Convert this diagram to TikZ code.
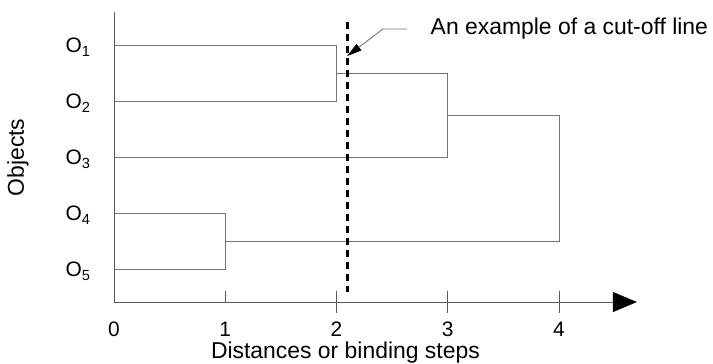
\documentclass[tikz,border=0pt]{standalone}
\usepackage{fontspec}
\setmainfont{Liberation Sans}
\usepackage{tikz}
\usetikzlibrary{arrows.meta,positioning,calc}

\begin{document}
\begin{tikzpicture}[x=111.25bp,y=56bp,>=Latex,
  tree/.style={draw=black!55,line width=0.9pt},
  axisline/.style={draw=black!65,line width=0.9pt},
  big/.style={font=\fontsize{23}{27}\selectfont},
  small/.style={font=\fontsize{21}{25}\selectfont}]
\useasboundingbox (-1.0247,-1.089) rectangle (5.384,5.393);
% axes
\coordinate (org) at (0,0);
\coordinate (xend) at (4.70,0);
\coordinate (yend) at (0,5.18);
\draw[axisline,-{Triangle[length=24bp,width=20bp,fill=black,color=black]}] (org) -- (xend);
\draw[axisline] (org) -- (yend);
\draw[axisline] (1,0) -- (1,0.2);
\foreach \x in {2,3,4}{\draw[axisline] (\x,-0.2) -- (\x,0.2);}
\foreach \x in {0,...,4}{\node[small] (t\x) at (\x,-0.49) {\x};}
\node[big,anchor=base] (xlab) at (2.08,-1.0) {Distances or binding steps};
\node[big,rotate=90] (ylab) at (-0.863,2.58) {Objects};
% leaves
\foreach \i/\y in {1/4.59,2/3.59,3/2.59,4/1.59,5/0.59}{
  \coordinate (o\i) at (0,\y);
  \node[small,anchor=base east,inner sep=0pt] (lab\i) at (-0.21,\y-0.143) {O\textsubscript{\i}};
}
% merges
\coordinate (m12) at (2,4.09);
\coordinate (m123) at (3,3.34);
\coordinate (m45) at (1,1.09);
\coordinate (mall) at (4,2.215);
\draw[tree] (o1) -| (m12) |- (o2);
\draw[tree] (m12) -| (m123) |- (o3);
\draw[tree] (o4) -| (m45) |- (o5);
\draw[tree] (m123) -| (mall) |- (m45);
% cut-off line
\coordinate (cuttop) at (2.1,5.0);
\coordinate (cutbot) at (2.1,0.18);
\draw[line width=2.4pt,dash pattern=on 7bp off 5bp] (cuttop) -- (cutbot);
\node[big,anchor=base west,inner sep=0pt] (note) at (2.845,4.77) {An example of a cut-off line};
\coordinate (lead) at (2.634,4.875);
\coordinate (knee) at (2.418,4.875);
\coordinate (tip) at (2.094,4.39);
\draw[draw=black!55,line width=0.9pt,-{Triangle[length=15bp,width=8bp,fill=black,color=black]}] (lead) -- (knee) -- (tip);
\end{tikzpicture}
\end{document}
